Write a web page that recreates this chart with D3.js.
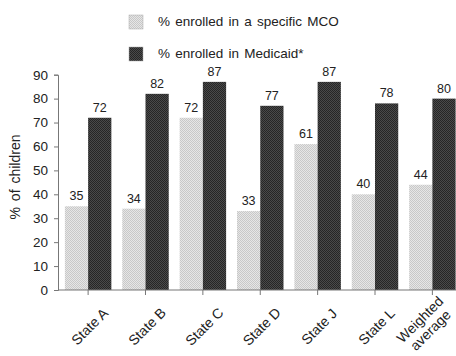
<!DOCTYPE html>
<html><head><meta charset="utf-8">
<script src="https://cdn.jsdelivr.net/npm/d3@7"></script>
<style>body{margin:0;background:#fff;} svg{display:block;font-family:"Liberation Sans",Arial,sans-serif;}</style>
</head><body><svg id="c" width="456" height="356"></svg>
<script>
const categories = ["State A","State B","State C","State D","State J","State L","Weighted average"];
const mcoValues = [35,34,72,33,61,40,44];
const medicaidValues = [72,82,87,77,87,78,80];
const yTicks = [0,10,20,30,40,50,60,70,80,90];
const seriesNames = ["% enrolled in a specific MCO","% enrolled in Medicaid*"];

const svg = d3.select("#c");
const defs = svg.append("defs");
function pat(id, bg, fg){
  const p = defs.append("pattern").attr("id",id).attr("width",2).attr("height",2).attr("patternUnits","userSpaceOnUse");
  p.append("rect").attr("width",2).attr("height",2).attr("fill",bg);
  p.append("rect").attr("width",1).attr("height",1).attr("fill",fg);
  p.append("rect").attr("x",1).attr("y",1).attr("width",1).attr("height",1).attr("fill",fg);
}
pat("pl","#e6e6e6","#c8c8c8");
pat("pd","#4a4a4a","#262626");
const fills = ["url(#pl)","url(#pd)"];

const x0 = 58, y0 = 290;
const y = d3.scaleLinear().domain([0,90]).range([y0, 74.7]);
const x = d3.scaleBand().domain(categories).range([x0, 462.5]).paddingInner(0.19).paddingOuter(0.12);
const xs = d3.scaleBand().domain([0,1]).range([0, x.bandwidth()]);

// y axis
const ya = svg.append("g").attr("transform",`translate(${x0},0)`)
  .call(d3.axisLeft(y).tickValues(yTicks).tickSize(4).tickPadding(6));
ya.selectAll("path,line").attr("stroke","#777");
ya.selectAll("text").attr("font-size",13.5).attr("fill","#222").attr("font-family","Liberation Sans, Arial, sans-serif");

// bars
const data = categories.map((c,i)=>({c, v:[mcoValues[i], medicaidValues[i]]}));
const g = svg.append("g");
data.forEach(d=>{
  d.v.forEach((v,k)=>{
    g.append("rect").attr("x", x(d.c)+xs(k)).attr("y", y(v))
      .attr("width", xs.bandwidth()).attr("height", y0 - y(v)).attr("fill", fills[k]);
    g.append("text").attr("x", x(d.c)+xs(k)+xs.bandwidth()/2).attr("y", y(v)-6)
      .attr("text-anchor","middle").attr("font-size",12.5).attr("fill","#222").text(v);
  });
});

// x axis
const xa = svg.append("g").attr("transform",`translate(0,${y0})`)
  .call(d3.axisBottom(x).tickSize(5).tickFormat(""));
xa.select("path").attr("stroke","#777").attr("d",`M${x0},0H470`);
xa.selectAll("line").attr("stroke","#777");
categories.forEach(c=>{
  const cx = x(c)+x.bandwidth()/2;
  const two = c === "Weighted average";
  const t = svg.append("text").attr("transform",`translate(${two ? cx-9 : cx+5},${two ? y0+33 : y0+40}) rotate(-45)`)
    .attr("text-anchor","middle").attr("font-size",14).attr("fill","#222");
  const parts = two ? ["Weighted","average"] : [c];
  parts.forEach((p,i)=>{
    t.append("tspan").attr("x", 0).attr("dy", i===0 ? 0 : 15).text(p);
  });
});

// y title
svg.append("text").attr("transform","translate(20,177) rotate(-90)").attr("text-anchor","middle")
  .attr("font-size",14).attr("word-spacing",2).attr("fill","#222").text("% of children");

// legend
seriesNames.forEach((s,i)=>{
  const ly = 15 + i*32;
  svg.append("rect").attr("x",129).attr("y",ly).attr("width",14).attr("height",14).attr("fill",fills[i]).attr("stroke","#aaa").attr("stroke-width",0.5);
  svg.append("text").attr("x",158).attr("y",ly+11).attr("font-size",13.5).attr("word-spacing",1.5).attr("fill","#222").text(s);
});
</script></body></html>
